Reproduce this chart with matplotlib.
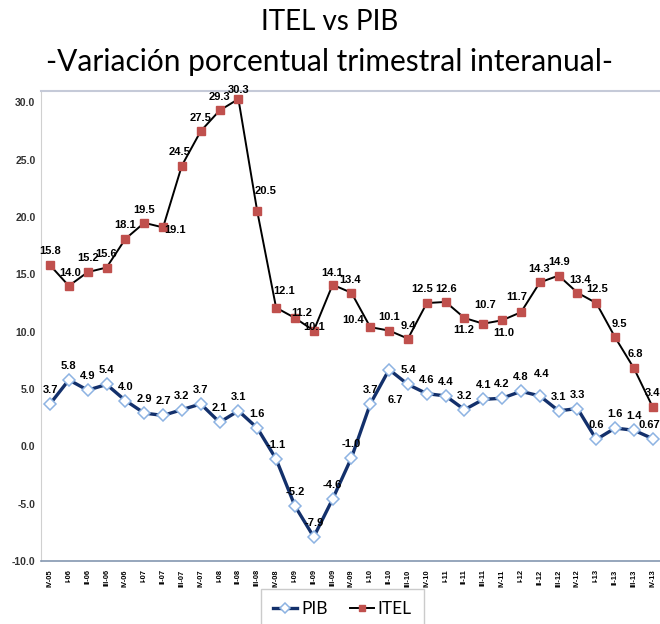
import matplotlib
matplotlib.use('Agg')
from matplotlib import pyplot as plt

# quarters shown on the x axis
quarters = ['IV-05', 'I-06', 'II-06', 'III-06', 'IV-06', 'I-07', 'II-07', 'III-07', 'IV-07',
            'I-08', 'II-08', 'III-08', 'IV-08', 'I-09', 'II-09', 'III-09', 'IV-09',
            'I-10', 'II-10', 'III-10', 'IV-10', 'I-11', 'II-11', 'III-11', 'IV-11',
            'I-12', 'II-12', 'III-12', 'IV-12', 'I-13', 'II-13', 'III-13', 'IV-13']

itel = [15.8, 14.0, 15.2, 15.6, 18.1, 19.5, 19.1, 24.5, 27.5, 29.3, 30.3, 20.5, 12.1, 11.2,
        10.1, 14.1, 13.4, 10.4, 10.1, 9.4, 12.5, 12.6, 11.2, 10.7, 11.0, 11.7, 14.3, 14.9,
        13.4, 12.5, 9.5, 6.8, 3.4]
pib = [3.7, 5.8, 4.9, 5.4, 4.0, 2.9, 2.7, 3.2, 3.7, 2.1, 3.1, 1.6, -1.1, -5.2, -7.9, -4.6,
       -1.0, 3.7, 6.7, 5.4, 4.6, 4.4, 3.2, 4.1, 4.2, 4.8, 4.4, 3.1, 3.3, 0.6, 1.6, 1.4, 0.67]
pib_text = ['%.1f' % v for v in pib]
pib_text[-1] = '0.67'

# label offsets in pixels (dx, dy)
A = (0, 14)
itel_off = [A, (1, 13), A, A, A, (0, 13), (12, -3), (-2, 14), (0, 13), (0, 13), (0, 9),
            (8, 20), (8, 17), (7, 5), (0, 4), (-1, 12), (-1, 13), (-17, 7), A, (0, 13),
            (-5, 14), (0, 13), (-1, -12), (2, 19), (2, -13), (-4, 15), (-1, 13), A, (3, 13),
            (1, 14), (4, 13), (1, 14), A]
pib_off = [A] * len(pib)
pib_off[18] = (6, -30)
pib_off[26] = (2, 22)
pib_off[32] = (-3, 14)

fig = plt.figure(figsize=(6.6, 6.24), dpi=100)
ax = fig.add_axes([41 / 660, 1 - 561 / 624, 1 - 41 / 660, (561 - 91) / 624])

x = list(range(len(quarters)))
ax.plot(x, itel, color='black', lw=1.4, marker='s', ms=6, mfc='#C0504D', mec='#C0504D',
        label='ITEL', zorder=3)
ax.plot(x, pib, color='#13306B', lw=2.4, marker='D', ms=6, mfc='white', mec='#8DB3E2',
        mew=1.1, label='PIB', zorder=3)

lab = dict(ha='center', va='center', fontsize=8, fontweight='bold',
           family='Liberation Sans', textcoords='offset pixels', zorder=4)
for i in x:
    ax.annotate('%.1f' % itel[i], (i, itel[i]), xytext=itel_off[i], **lab)
    ax.annotate(pib_text[i], (i, pib[i]), xytext=pib_off[i], **lab)

ax.set_xlim(-0.48, 32.38)
ax.set_ylim(-10, 31)
ax.set_yticks(range(-10, 31, 5))
ax.set_yticklabels(['%.1f' % v for v in range(-10, 31, 5)], fontsize=7.5, fontweight='bold',
                   color='#333333', family='Liberation Sans')
ax.set_xticks(x)
ax.set_xticklabels(quarters, rotation=90, fontsize=5.4, fontweight='bold',
                   family='Liberation Sans')
ax.tick_params(length=0, pad=6)
ax.tick_params(axis='y', pad=4)

ax.spines['right'].set_visible(False)
ax.spines['left'].set_color('#D0D0D0')
ax.spines['top'].set_color('#C5CAD8')
ax.spines['top'].set_linewidth(1.5)
ax.spines['bottom'].set_color('#8497B0')
ax.spines['bottom'].set_linewidth(1.2)

fig.text(0.5, 1 - 22 / 624, 'ITEL vs PIB', ha='center', va='center', fontsize=20,
         family='Lato')
fig.text(0.5, 1 - 62 / 624, '-Variación porcentual trimestral interanual-', ha='center',
         va='center', fontsize=21.5, family='Lato')

h, l = ax.get_legend_handles_labels()
leg = fig.legend(h[::-1], l[::-1], loc='upper left', bbox_to_anchor=(261 / 660, 1 - 589 / 624),
                 borderaxespad=0, ncol=2, frameon=True, fancybox=False, handlelength=1.4,
                 handletextpad=0.2, columnspacing=1.3, borderpad=0.7,
                 prop={'family': 'Lato', 'size': 12.5})
leg.get_frame().set_edgecolor('#BFBFBF')
for hd in leg.legend_handles:
    hd.set_markersize(5)

fig.savefig('out.png', dpi=100)
